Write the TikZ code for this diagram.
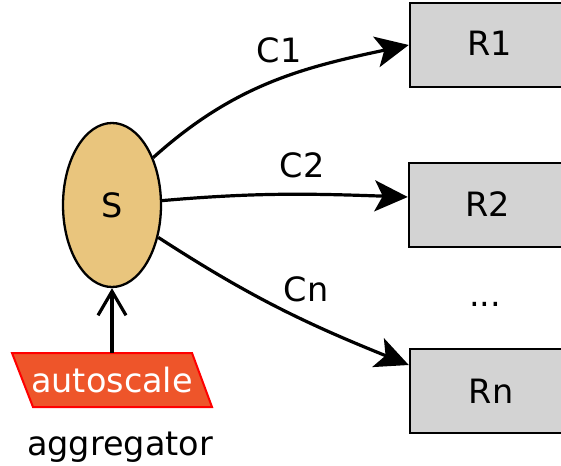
\documentclass[tikz,border=0pt]{standalone}
\usepackage{fontspec}
\setmainfont{DejaVu Sans}
\usetikzlibrary{shapes.geometric,arrows.meta}
\definecolor{sfill}{RGB}{233,197,125}
\definecolor{rfill}{RGB}{211,211,211}
\definecolor{afill}{RGB}{238,85,42}
\definecolor{aborder}{RGB}{255,0,0}
\tikzset{
  lbl/.style={anchor=base,inner sep=0pt,font=\fontsize{33.5}{40}\selectfont},
  rbox/.style={draw=black,line width=2.5pt,fill=rfill,minimum width=160pt,minimum height=84pt,inner sep=0pt},
  conn/.style={line width=3.2pt,-{Stealth[length=33pt,width=31pt,inset=8pt]}},
  upconn/.style={line width=3.2pt,-{Straight Barb[length=24pt,width=28pt,line width=3.2pt]}},
}
\begin{document}
\begin{tikzpicture}[x=1pt,y=-1pt]
\useasboundingbox (0,0) rectangle (561,465);
% source ellipse
\node[ellipse,draw=black,line width=2.3pt,fill=sfill,minimum width=98pt,minimum height=164pt,inner sep=0pt] (S) at (112,205) {};
\node[lbl] (Slbl) at (112,217) {S};
% receivers
\node[rbox] (R1) at (490,45) {};
\node[rbox] (R2) at (489,205) {};
\node[rbox] (Rn) at (490,391) {};
\node[lbl] (R1lbl) at (490,56) {R1};
\node[lbl] (R2lbl) at (488,216) {R2};
\node[lbl] (Rnlbl) at (491,403) {Rn};
\node[lbl] (dots) at (485,306) {...};
% autoscale parallelogram
\draw[draw=aborder,line width=2pt,fill=afill] (12,353) -- (192,353) -- (212,407) -- (33,407) -- cycle;
\coordinate (agg) at (112,353);
\node[lbl,text=white] (auto) at (112,392) {autoscale};
\node[lbl] (aggr) at (120,455) {aggregator};
% connectors
\draw[conn] (S.49) to[out=42,in=192] (R1.west);
\draw[conn] (S.5) to[out=5,in=178] ([yshift=8pt]R2.west);
\draw[conn] (S.-35) to[out=-33,in=158] ([yshift=26pt]Rn.west);
\draw[upconn] (agg) -- (S.south);
% connector labels
\node[lbl] (c1) at (279,63) {C1};
\node[lbl] (c2) at (302,177) {C2};
\node[lbl] (cn) at (306,301) {Cn};
\end{tikzpicture}
\end{document}
